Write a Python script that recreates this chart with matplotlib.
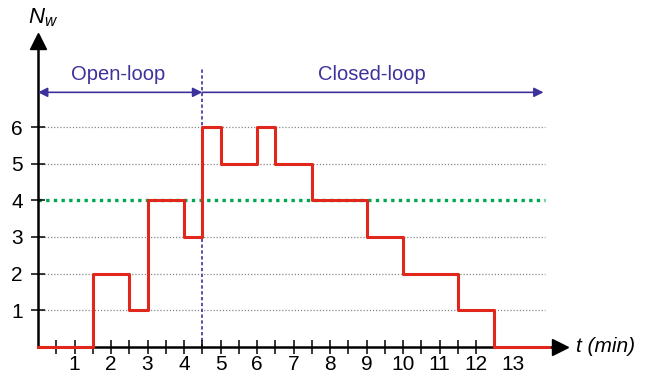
import matplotlib.pyplot as plt

plt.rcParams['font.family'] = ['Liberation Sans', 'DejaVu Sans']
plt.rcParams['mathtext.fontset'] = 'custom'
plt.rcParams['mathtext.it'] = 'Liberation Sans:italic'
plt.rcParams['mathtext.rm'] = 'Liberation Sans'

# switching instants (min) and number of windows held in each interval
t_edges = [0, 1.5, 2.5, 3, 4, 4.5, 5, 6, 6.5, 7.5, 9, 10, 11.5, 12.5, 14.0]
n_w = [0, 2, 1, 4, 3, 6, 5, 6, 5, 4, 3, 2, 1, 0]
t_switch = 4.5          # open-loop -> closed-loop
n_target = 4
x_labels = list(range(1, 14))
y_labels = list(range(1, 7))

red = "#e1261c"
purple = "#3d329c"
green = "#00a651"

fig = plt.figure(figsize=(6.46, 3.77), dpi=100)
ax = fig.add_axes([0, 0, 1, 1])
# pixel-like scale: 36.5 px per minute, 36.6 px per window
ax.set_xlim(-38 / 36.5, (646 - 38) / 36.5)
ax.set_ylim(-30.3 / 36.6, (377 - 30.3) / 36.6)

for s in ["top", "right"]:
    ax.spines[s].set_visible(False)
ax.spines["left"].set_position(("data", 0))
ax.spines["bottom"].set_position(("data", 0))
ax.spines["left"].set_bounds(0, 8.1)
ax.spines["bottom"].set_bounds(0, 14.1)
for s in ["left", "bottom"]:
    ax.spines[s].set_linewidth(1.8)
    ax.spines[s].set_zorder(2)

# axis arrow heads
ax.plot(14.3, 0, marker=">", ms=12, color="black", clip_on=False, zorder=3)
ax.plot(0, 8.35, marker="^", ms=12, color="black", clip_on=False, zorder=3)

ax.set_xticks(x_labels)
ax.set_xticklabels([str(v) for v in x_labels])
ax.set_xticks([v + 0.5 for v in range(0, 12)], minor=True)
ax.set_yticks(y_labels)
ax.set_yticklabels([str(v) for v in y_labels])
ax.tick_params(axis="x", which="both", direction="inout", length=10, width=1.1,
               labelsize=15, pad=1)
ax.tick_params(axis="y", which="both", direction="inout", length=10, width=1.1,
               labelsize=15, pad=6)
# no tick mark under the last label, only the number
ax.xaxis.get_major_ticks()[-1].tick1line.set_visible(False)

# dotted reference lines
for v in y_labels:
    if v != n_target:
        ax.plot([0, 13.9], [v, v], color="#888888", lw=0.9, ls=(0, (1, 1.5)), zorder=1)
ax.plot([0, 13.9], [n_target, n_target], color=green, lw=2.4, ls=(0, (1, 1.3)), zorder=1)

# switching instant
ax.plot([t_switch, t_switch], [0, 7.6], color=purple, lw=1.2, ls=(0, (2, 1.5)), zorder=1)

# phase arrows
ax.annotate("", xy=(0, 6.95), xytext=(t_switch, 6.95),
            arrowprops=dict(arrowstyle="<|-|>", color=purple, lw=1.2,
                            mutation_scale=14, shrinkA=0, shrinkB=0))
ax.annotate("", xy=(t_switch, 6.95), xytext=(13.85, 6.95),
            arrowprops=dict(arrowstyle="<|-", color=purple, lw=1.2,
                            mutation_scale=14, shrinkA=0, shrinkB=0))
ax.text(2.2, 7.45, "Open-loop", color=purple, fontsize=14.5, ha="center", va="center")
ax.text(9.15, 7.45, "Closed-loop", color=purple, fontsize=14.5, ha="center", va="center")

# N_w over time
ax.step(t_edges, n_w + [n_w[-1]], where="post", color=red, lw=2.2, zorder=4,
        clip_on=False)

ax.text(14.75, 0, "t (min)", fontsize=15, ha="left", va="center", style="italic")
ax.text(0.13, 9.0, "$N_w$", fontsize=16, ha="center", va="center")

fig.savefig("out.png", dpi=100)
